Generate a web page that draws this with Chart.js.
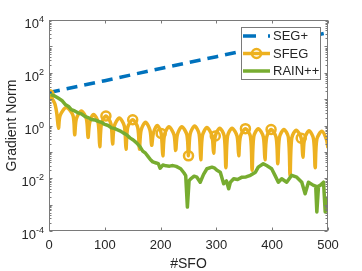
<!DOCTYPE html>
<html>
<head>
<meta charset="utf-8">
<script src="https://cdn.jsdelivr.net/npm/chart.js@4.4.1/dist/chart.umd.min.js"></script>
<style>
  html, body { margin: 0; padding: 0; background: #fff; }
  #wrap { width: 362px; height: 271px; position: relative; }
</style>
</head>
<body>
<div id="wrap"><canvas id="chart"></canvas></div>
<script>
// SEG+ : straight line on the log axis
const segX = [0, 100, 200, 300, 400, 500];
const segY = [17.8, 50.1, 145, 407, 1170, 3310];

// SFEG : oscillating, dips and arches
const sfegX = [
  0, 10, 14, 17, 20, 31, 43, 46, 49, 58, 67, 70,
  73, 80, 88, 91, 94, 102, 111, 114, 117, 126, 135, 138,
  141, 150, 159, 162, 165, 173, 181, 184, 187, 194, 201, 204,
  207, 215, 224, 227, 230, 238, 247, 250, 253, 261, 269, 272,
  275, 283, 292, 295, 298, 306, 314, 317, 320, 328, 337, 340,
  343, 352, 361, 364, 367, 375, 384, 387, 390, 398, 407, 410,
  413, 421, 429, 432, 435, 443, 452, 455, 458, 466, 474, 477,
  480, 489, 497, 500
];
const sfegY = [
  15.1, 7.08, 2.82, 0.794, 2.40, 4.79, 2.40, 0.447, 1.78, 3.55, 1.78, 0.355,
  1.32, 2.63, 1.32, 0.158, 1.15, 2.29, 1.15, 0.2, 0.955, 1.91, 0.955, 0.126,
  0.832, 1.66, 0.832, 0.126, 0.661, 1.32, 0.661, 0.178, 0.501, 1.0, 0.501, 0.0708,
  0.447, 0.891, 0.447, 0.112, 0.447, 0.891, 0.447, 0.0708, 0.479, 0.955, 0.479, 0.0501,
  0.417, 0.832, 0.417, 0.0891, 0.398, 0.794, 0.398, 0.0251, 0.398, 0.794, 0.398, 0.0708,
  0.380, 0.759, 0.380, 0.02, 0.380, 0.759, 0.380, 0.0501, 0.355, 0.708, 0.355, 0.0355,
  0.355, 0.708, 0.355, 0.0126, 0.331, 0.661, 0.331, 0.0631, 0.316, 0.631, 0.316, 0.0251,
  0.302, 0.603, 0.302, 0.141
];
// x positions that carry a circle marker
const sfegMarks = [0, 102, 150, 201, 250, 298, 352, 398, 452];

// RAIN++
const rainX = [
  3, 10, 17, 23, 29, 35, 40, 46, 52, 58,
  64, 70, 76, 82, 88, 94, 100, 106, 112, 117,
  121, 127, 133, 139, 145, 151, 157, 163, 168, 173,
  177, 182, 186, 192, 196, 199, 204, 210, 216, 222,
  228, 236, 242, 245, 248, 251, 254, 260, 265, 271,
  277, 283, 292, 297, 301, 307, 313, 318, 322, 325,
  331, 338, 346, 353, 361, 370, 375, 384, 390, 399,
  405, 411, 417, 426, 435, 444, 453, 459, 465, 474,
  478, 480, 483, 486, 492, 495, 498, 500
];
const rainY = [
  14.8, 13.2, 10.7, 8.91, 6.31, 5.25, 3.98, 3.55, 3.02, 2.75,
  2.24, 2.0, 1.70, 1.62, 1.45, 1.32, 1.10, 1.0, 0.813, 0.776,
  0.708, 0.631, 0.525, 0.447, 0.339, 0.282, 0.219, 0.158, 0.107, 0.0891,
  0.0692, 0.0501, 0.0417, 0.038, 0.0355, 0.024, 0.0316, 0.0295, 0.0288, 0.0302,
  0.0282, 0.0229, 0.0158, 0.0126, 0.00081, 0.00794, 0.00955, 0.012, 0.011, 0.00708,
  0.0141, 0.0229, 0.0263, 0.024, 0.02, 0.017, 0.00617, 0.00794, 0.00398, 0.00708,
  0.00955, 0.00891, 0.011, 0.0112, 0.0129, 0.017, 0.0263, 0.0355, 0.0302, 0.0229,
  0.0129, 0.00708, 0.00955, 0.00708, 0.0129, 0.011, 0.00708, 0.00257, 0.00708, 0.00537,
  0.00501, 0.000525, 0.00501, 0.00537, 0.00708, 0.000525, 0.00145, 0.002
];

const xTicks = [0, 100, 200, 300, 400, 500];
const yTickExps = [-4, -2, 0, 2, 4];

const blue = '#0072BD';
const gold = '#EDB120';
const green = '#77AC30';
const ink = '#262626';
const frame = '#7a7a7a';
const font = '"Liberation Sans", Arial, sans-serif';

const pts = (xs, ys) => xs.map((x, i) => ({ x: x, y: ys[i] }));

// box, inward ticks, tick labels and axis titles in the MATLAB look
const axesPlugin = {
  id: 'axesPlugin',
  afterDatasetsDraw(chart) {
    const { ctx, chartArea: a, scales: { x, y } } = chart;
    ctx.save();
    ctx.strokeStyle = frame;
    ctx.lineWidth = 1;
    const L = a.left + 0.5, R = a.right - 0.5, T = a.top + 0.5, B = a.bottom - 0.5;
    ctx.strokeRect(L, T, R - L, B - T);

    ctx.beginPath();
    xTicks.forEach(v => {
      const px = Math.round(x.getPixelForValue(v)) + 0.5;
      ctx.moveTo(px, B); ctx.lineTo(px, B - 3);
      ctx.moveTo(px, T); ctx.lineTo(px, T + 3);
    });
    for (let e = -4; e <= 4; e++) {
      const py = Math.round(y.getPixelForValue(Math.pow(10, e))) + 0.5;
      ctx.moveTo(L, py); ctx.lineTo(L + 3, py);
      ctx.moveTo(R, py); ctx.lineTo(R - 3, py);
      if (e === 4) continue;
      for (let k = 2; k <= 9; k++) {
        const pm = Math.round(y.getPixelForValue(k * Math.pow(10, e))) + 0.5;
        ctx.moveTo(L, pm); ctx.lineTo(L + 2, pm);
        ctx.moveTo(R, pm); ctx.lineTo(R - 2, pm);
      }
    }
    ctx.stroke();

    ctx.fillStyle = ink;
    ctx.font = '13px ' + font;
    ctx.textAlign = 'center';
    ctx.textBaseline = 'alphabetic';
    xTicks.forEach(v => ctx.fillText(String(v), x.getPixelForValue(v), a.bottom + 18));

    const rightEdge = a.left - 5;
    yTickExps.forEach(e => {
      const py = y.getPixelForValue(Math.pow(10, e));
      const ex = String(e);
      ctx.font = '9px ' + font;
      const ew = ctx.measureText(ex).width;
      ctx.textAlign = 'right';
      ctx.fillText(ex, rightEdge, py + 2);
      ctx.font = '13px ' + font;
      ctx.fillText('10', rightEdge - ew, py + 8);
    });

    ctx.font = '14px ' + font;
    ctx.textAlign = 'center';
    ctx.fillText('#SFO', (a.left + a.right) / 2, 268);
    ctx.save();
    ctx.translate(15.5, (a.top + a.bottom) / 2);
    ctx.rotate(-Math.PI / 2);
    ctx.fillText('Gradient Norm', 0, 0);
    ctx.restore();
    ctx.restore();
  },
  afterDraw(chart) {
    // legend box in the upper right
    const { ctx } = chart;
    ctx.save();
    const bx = 241.5, by = 27.5, bw = 79, bh = 52;
    ctx.fillStyle = '#fff';
    ctx.fillRect(bx, by, bw, bh);
    ctx.strokeStyle = frame;
    ctx.lineWidth = 1;
    ctx.strokeRect(bx, by, bw, bh);

    const rows = [
      { label: 'SEG+', color: blue, dash: [13, 12], marker: false },
      { label: 'SFEG', color: gold, dash: [], marker: true },
      { label: 'RAIN++', color: green, dash: [], marker: false }
    ];
    const rowY = [36, 53.5, 71];
    rows.forEach((r, i) => {
      const yy = rowY[i];
      ctx.strokeStyle = r.color;
      ctx.lineWidth = 3.5;
      ctx.setLineDash(r.dash);
      ctx.beginPath();
      ctx.moveTo(243, yy); ctx.lineTo(270, yy);
      ctx.stroke();
      ctx.setLineDash([]);
      if (r.marker) {
        ctx.lineWidth = 2.5;
        ctx.beginPath();
        ctx.arc(256.5, yy, 4.5, 0, Math.PI * 2);
        ctx.stroke();
      }
      ctx.fillStyle = ink;
      ctx.font = '13px ' + font;
      ctx.textAlign = 'left';
      ctx.textBaseline = 'middle';
      ctx.fillText(r.label, 273, yy + 0.5);
    });
    ctx.restore();
  }
};

new Chart(document.getElementById('chart'), {
  type: 'line',
  data: {
    datasets: [
      {
        label: 'SEG+',
        data: pts(segX, segY),
        borderColor: blue,
        borderWidth: 3.5,
        borderDash: [11, 7],
        pointRadius: 0,
        tension: 0,
        order: 3
      },
      {
        label: 'SFEG',
        data: pts(sfegX, sfegY),
        borderColor: gold,
        borderWidth: 3.5,
        borderJoinStyle: 'round',
        tension: 0.3,
        pointRadius: (c) => (c.raw && sfegMarks.includes(c.raw.x)) ? 4.5 : 0,
        pointBorderWidth: 2.5,
        pointBorderColor: gold,
        pointBackgroundColor: 'rgba(0,0,0,0)',
        order: 2
      },
      {
        label: 'RAIN++',
        data: pts(rainX, rainY),
        borderColor: green,
        borderWidth: 3.5,
        borderJoinStyle: 'round',
        pointRadius: 0,
        tension: 0,
        order: 1
      }
    ]
  },
  options: {
    responsive: true,
    maintainAspectRatio: false,
    animation: false,
    devicePixelRatio: 1,
    layout: { padding: { left: 49, right: 34, top: 20, bottom: 40 } },
    plugins: { legend: { display: false }, tooltip: { enabled: false } },
    scales: {
      x: { type: 'linear', min: 0, max: 500, display: false },
      y: { type: 'logarithmic', min: 1e-4, max: 1e4, display: false }
    }
  },
  plugins: [axesPlugin]
});
</script>
</body>
</html>
